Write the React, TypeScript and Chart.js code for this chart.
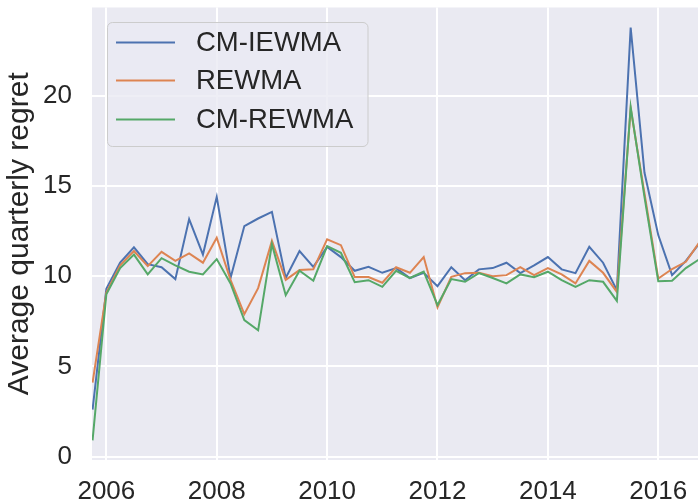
import React, { useEffect, useRef } from "react";
import { Chart, registerables } from "chart.js";

Chart.register(...registerables);

const quarters = [
  2005.75, 2006.0, 2006.25, 2006.5, 2006.75, 2007.0, 2007.25, 2007.5, 2007.75,
  2008.0, 2008.25, 2008.5, 2008.75, 2009.0, 2009.25, 2009.5, 2009.75,
  2010.0, 2010.25, 2010.5, 2010.75, 2011.0, 2011.25, 2011.5, 2011.75,
  2012.0, 2012.25, 2012.5, 2012.75, 2013.0, 2013.25, 2013.5, 2013.75,
  2014.0, 2014.25, 2014.5, 2014.75, 2015.0, 2015.25, 2015.5, 2015.75,
  2016.0, 2016.25, 2016.5, 2016.75,
];

const cmIewma = [
  2.6, 9.3, 10.75, 11.6, 10.67, 10.5, 9.84, 13.17, 11.2,
  14.4, 9.9, 12.78, 13.2, 13.57, 9.9, 11.4, 10.52,
  11.63, 11.06, 10.3, 10.52, 10.19, 10.45, 9.9, 10.19,
  9.45, 10.5, 9.78, 10.38, 10.45, 10.75, 10.17, 10.6,
  11.06, 10.38, 10.17, 11.63, 10.75, 9.23, 23.79, 15.75,
  12.28, 10.06, 10.85, 11.85,
];

const rewma = [
  4.1, 9.1, 10.6, 11.4, 10.56, 11.35, 10.85, 11.27, 10.75,
  12.13, 9.8, 7.9, 9.34, 11.96, 9.8, 10.34, 10.38,
  12.05, 11.72, 9.95, 9.95, 9.64, 10.5, 10.19, 11.06,
  8.28, 9.97, 10.17, 10.19, 10.0, 10.06, 10.5, 10.06,
  10.45, 10.1, 9.6, 10.85, 10.19, 9.13, 19.3, 14.6,
  9.87, 10.4, 10.8, 11.9,
];

const cmRewma = [
  0.9, 9.0, 10.45, 11.2, 10.1, 11.0, 10.6, 10.25, 10.1,
  10.95, 9.6, 7.57, 7.0, 11.78, 8.95, 10.3, 9.75,
  11.67, 11.3, 9.67, 9.78, 9.41, 10.3, 9.9, 10.25,
  8.4, 9.84, 9.69, 10.17, 9.9, 9.6, 10.1, 9.95,
  10.25, 9.78, 9.41, 9.78, 9.69, 8.63, 19.39, 14.4,
  9.72, 9.75, 10.45, 10.95,
];

const seriesNames = ["CM-IEWMA", "REWMA", "CM-REWMA"];
const seriesColors = ["#4c72b0", "#dd8452", "#55a868"];
const xTicks = [2006, 2008, 2010, 2012, 2014, 2016];
const yTicks = [0, 5, 10, 15, 20];

const FONT = '"Liberation Sans", Arial, sans-serif';
const TEXT = "#262626";

const bgPlugin = {
  id: "plotBg",
  beforeDraw(chart: any) {
    const { ctx, chartArea } = chart;
    ctx.save();
    ctx.fillStyle = "#ffffff";
    ctx.fillRect(0, 0, chart.width, chart.height);
    ctx.fillStyle = "#eaeaf2";
    ctx.fillRect(chartArea.left, chartArea.top, chartArea.right - chartArea.left, chartArea.bottom - chartArea.top);
    ctx.restore();
  },
};

const legendPlugin = {
  id: "innerLegend",
  afterDraw(chart: any) {
    const { ctx } = chart;
    const x0 = 107.5, y0 = 22.5, w = 260.5, h = 124, r = 5;
    ctx.save();
    ctx.beginPath();
    ctx.moveTo(x0 + r, y0);
    ctx.lineTo(x0 + w - r, y0);
    ctx.arcTo(x0 + w, y0, x0 + w, y0 + r, r);
    ctx.lineTo(x0 + w, y0 + h - r);
    ctx.arcTo(x0 + w, y0 + h, x0 + w - r, y0 + h, r);
    ctx.lineTo(x0 + r, y0 + h);
    ctx.arcTo(x0, y0 + h, x0, y0 + h - r, r);
    ctx.lineTo(x0, y0 + r);
    ctx.arcTo(x0, y0, x0 + r, y0, r);
    ctx.closePath();
    ctx.fillStyle = "rgba(234,234,242,0.8)";
    ctx.fill();
    ctx.strokeStyle = "#cccccc";
    ctx.lineWidth = 1;
    ctx.stroke();
    const rows = [42.5, 80.5, 119.5];
    chart.data.datasets.forEach((ds: any, i: number) => {
      const y = rows[i];
      ctx.beginPath();
      ctx.moveTo(116, y);
      ctx.lineTo(175, y);
      ctx.strokeStyle = ds.borderColor;
      ctx.lineWidth = 2;
      ctx.stroke();
      ctx.fillStyle = TEXT;
      ctx.font = `27.5px ${FONT}`;
      ctx.textAlign = "left";
      ctx.textBaseline = "middle";
      ctx.fillText(ds.label, 196, y + 1);
    });
    ctx.restore();
  },
};

const zeroPad = (s: any) => {
  s.paddingTop = 0;
  s.paddingBottom = 0;
  s.paddingLeft = 0;
  s.paddingRight = 0;
};

export default function App() {
  const ref = useRef<HTMLCanvasElement | null>(null);
  useEffect(() => {
    document.body.style.margin = "0";
    const canvas = ref.current!;
    const makeData = (vals: number[]) => quarters.map((q, i) => ({ x: q, y: vals[i] }));
    const all = [cmIewma, rewma, cmRewma];
    const chart = new Chart(canvas, {
      type: "line",
      data: {
        datasets: all.map((vals, i) => ({
          label: seriesNames[i],
          data: makeData(vals),
          borderColor: seriesColors[i],
          backgroundColor: seriesColors[i],
          borderWidth: 2,
          pointRadius: 0,
          tension: 0,
          fill: false,
          order: 2 - i,
        })),
      },
      options: {
        animation: false,
        responsive: false,
        devicePixelRatio: 1,
        layout: { padding: { top: 7.5, left: 0, right: 0, bottom: 0 } },
        plugins: { legend: { display: false }, tooltip: { enabled: false } },
        scales: {
          x: {
            type: "linear",
            min: 2005.74,
            max: 2016.72,
            afterBuildTicks: (s: any) => {
              s.ticks = xTicks.map((v) => ({ value: v }));
            },
            afterFit: (s: any) => {
              s.height = 43;
              zeroPad(s);
            },
            grid: { color: "#ffffff", lineWidth: 2, drawTicks: false },
            border: { display: false },
            ticks: {
              autoSkip: false,
              maxRotation: 0,
              padding: 16,
              color: TEXT,
              font: { family: FONT, size: 26 },
              callback: (v: any) => String(v),
            },
          },
          y: {
            type: "linear",
            min: -0.19,
            max: 24.9,
            afterBuildTicks: (s: any) => {
              s.ticks = yTicks.map((v) => ({ value: v }));
            },
            afterFit: (s: any) => {
              s.width = 92;
              zeroPad(s);
            },
            grid: { color: "#ffffff", lineWidth: 2, drawTicks: false },
            border: { display: false },
            title: {
              display: true,
              text: "Average quarterly regret",
              color: TEXT,
              font: { family: FONT, size: 30, lineHeight: 1.1 },
              padding: { top: 3.5, bottom: 0 },
            },
            ticks: {
              padding: 20,
              color: TEXT,
              font: { family: FONT, size: 26 },
              callback: (v: any) => String(v),
            },
          },
        },
      },
      plugins: [bgPlugin, legendPlugin],
    });
    return () => chart.destroy();
  }, []);
  return (
    <div style={{ position: "absolute", left: 0, top: 0, width: 698, height: 503 }}>
      <canvas ref={ref} width={698} height={503} />
    </div>
  );
}
